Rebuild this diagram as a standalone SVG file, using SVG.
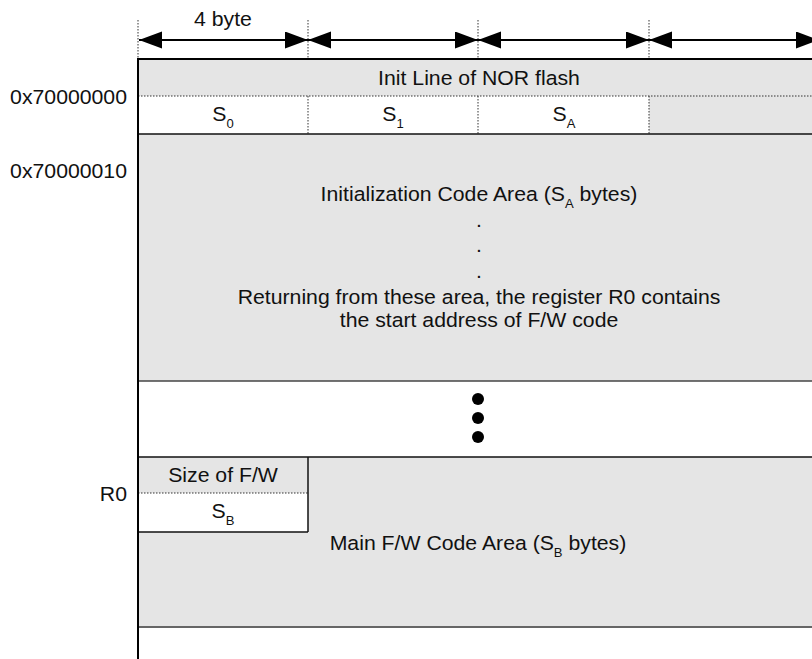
<svg xmlns="http://www.w3.org/2000/svg" width="812" height="659" viewBox="0 0 812 659">
<style>
.t{font-family:"Liberation Sans",Arial,sans-serif;font-size:19.5px;fill:#111;text-anchor:middle}
.r{text-anchor:end}
.g{fill:#e5e5e5}
.w{fill:#fff}
.dot{stroke:#333;stroke-width:1;stroke-dasharray:1.5 1.5;fill:none}
.sol{stroke:#111;stroke-width:1.5;fill:none}
.arr{stroke:#000;stroke-width:2;fill:none;marker-start:url(#ah);marker-end:url(#ah)}
</style>
<defs>
<marker id="ah" markerUnits="userSpaceOnUse" markerWidth="24" markerHeight="18" refX="23" refY="8.5" orient="auto-start-reverse">
<path d="M0,0 L23,8.5 L0,17 z" fill="#000"/>
</marker>
</defs>
<rect width="812" height="659" fill="#fff"/>

<g id="init-line">
<rect x="138" y="59" width="680" height="37" class="g"/>
<text class="t" transform="translate(479 85) scale(1.09 1)">Init Line of NOR flash</text>
</g>

<g id="s-row">
<rect x="138" y="96" width="511" height="38" class="w"/>
<rect x="649" y="96" width="170" height="38" class="g"/>
<line x1="138" y1="96" x2="812" y2="96" class="dot"/>
<line x1="308" y1="96" x2="308" y2="134" class="dot"/>
<line x1="478" y1="96" x2="478" y2="134" class="dot"/>
<line x1="649" y1="96" x2="649" y2="134" class="dot"/>
<text class="t" transform="translate(223 121) scale(1.09 1)">S<tspan font-size="12" dy="7">0</tspan></text>
<text class="t" transform="translate(393 121) scale(1.09 1)">S<tspan font-size="12" dy="7">1</tspan></text>
<text class="t" transform="translate(564 121) scale(1.09 1)">S<tspan font-size="12" dy="7">A</tspan></text>
</g>

<g id="init-code">
<rect x="138" y="134" width="680" height="247" class="g"/>
<line x1="138" y1="134" x2="812" y2="134" class="sol"/>
<text class="t" transform="translate(479 201) scale(1.09 1)">Initialization Code Area (S<tspan font-size="12" dy="7">A</tspan><tspan dy="-7"> bytes)</tspan></text>
<text class="t" transform="translate(479 227) scale(1.09 1)">.</text>
<text class="t" transform="translate(479 252) scale(1.09 1)">.</text>
<text class="t" transform="translate(479 278) scale(1.09 1)">.</text>
<text class="t" transform="translate(479 304) scale(1.09 1)">Returning from these area, the register R0 contains</text>
<text class="t" transform="translate(479 327) scale(1.09 1)">the start address of F/W code</text>
</g>

<g id="gap">
<rect x="138" y="381" width="680" height="76" class="w"/>
<line x1="138" y1="381" x2="812" y2="381" stroke="#444" stroke-width="1.5"/>
<circle cx="478" cy="399" r="6" fill="#000"/>
<circle cx="478" cy="418" r="6" fill="#000"/>
<circle cx="478" cy="437" r="6" fill="#000"/>
</g>

<g id="main-code">
<rect x="138" y="457" width="680" height="170" class="g"/>
<line x1="138" y1="457" x2="812" y2="457" class="sol"/>
<text class="t" transform="translate(478 550) scale(1.09 1)">Main F/W Code Area (S<tspan font-size="12" dy="7">B</tspan><tspan dy="-7"> bytes)</tspan></text>
<line x1="138" y1="627" x2="812" y2="627" stroke="#666" stroke-width="2"/>
</g>

<g id="size-box">
<rect x="138" y="493" width="170" height="39" class="w"/>
<line x1="138" y1="493" x2="308" y2="493" class="dot"/>
<line x1="308" y1="457" x2="308" y2="532" class="sol"/>
<line x1="138" y1="532" x2="308" y2="532" class="sol"/>
<text class="t" transform="translate(223 482) scale(1.09 1)">Size of F/W</text>
<text class="t" transform="translate(223 518) scale(1.09 1)">S<tspan font-size="12" dy="7">B</tspan></text>
</g>

<g id="frame">
<line x1="137" y1="59" x2="812" y2="59" stroke="#000" stroke-width="2"/>
<line x1="138" y1="58" x2="138" y2="659" stroke="#000" stroke-width="2"/>
</g>

<g id="labels">
<text class="t r" transform="translate(127 104) scale(1.09 1)">0x70000000</text>
<text class="t r" transform="translate(127 178) scale(1.09 1)">0x70000010</text>
<text class="t r" transform="translate(127 501) scale(1.09 1)">R0</text>
<text class="t" transform="translate(223 26) scale(1.09 1)">4 byte</text>
</g>

<g id="connectors">
<line x1="138" y1="20" x2="138" y2="58" class="dot"/>
<line x1="308" y1="20" x2="308" y2="58" class="dot"/>
<line x1="478" y1="20" x2="478" y2="58" class="dot"/>
<line x1="649" y1="20" x2="649" y2="58" class="dot"/>
<line x1="139" y1="40" x2="308" y2="40" class="arr"/>
<line x1="308" y1="40" x2="478" y2="40" class="arr"/>
<line x1="478" y1="40" x2="649" y2="40" class="arr"/>
<line x1="649" y1="40" x2="819" y2="40" class="arr"/>
</g>
</svg>
